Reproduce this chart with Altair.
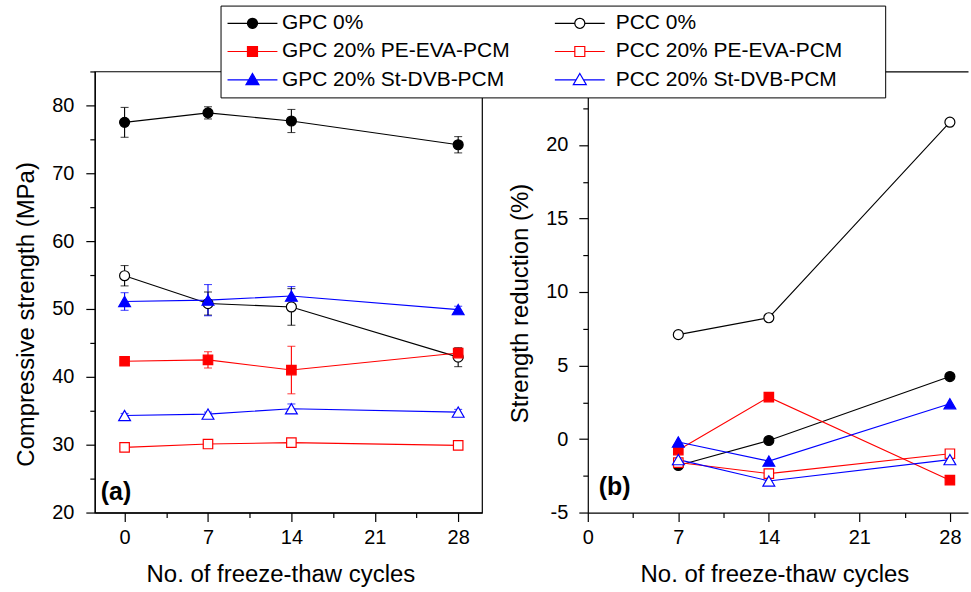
import math
import altair as alt
import pandas as pd

FONT = "Liberation Sans"

# ---------------- data ----------------
series = ["GPC 0%", "PCC 0%", "GPC 20% PE-EVA-PCM", "PCC 20% PE-EVA-PCM",
          "GPC 20% St-DVB-PCM", "PCC 20% St-DVB-PCM"]
series_color = ["#000000", "#000000", "#ff0000", "#ff0000", "#0000ff", "#0000ff"]
series_shape = ["circle", "circle", "square", "square", "triangle-up", "triangle-up"]
series_open = [False, True, False, True, False, True]
series_size = [100, 100, 90, 90, 140, 140]
# legend order: first column GPC, second column PCC
legend_order = [0, 2, 4, 1, 3, 5]

# (a) compressive strength (MPa)
cycles_a = [0, 7, 14, 28]
gpc0_a = [77.5, 78.9, 77.7, 74.2]
gpc0_err = [2.2, 0.9, 1.7, 1.2]
pcc0_a = [54.9, 50.8, 50.3, 42.9]
pcc0_err = [1.5, 1.7, 2.7, 1.4]
gpc_pe_a = [42.3, 42.5, 41.0, 43.5]
gpc_pe_err = [0.4, 1.2, 3.5, 0.7]
pcc_pe_a = [29.6, 30.1, 30.3, 29.9]
pcc_pe_err = [0.4, 0.4, 0.5, 0.4]
gpc_st_a = [51.1, 51.3, 51.9, 49.9]
gpc_st_err = [1.3, 2.3, 1.4, 0.5]
pcc_st_a = [34.3, 34.5, 35.3, 34.8]
pcc_st_err = [0.3, 0.3, 0.7, 0.4]

# (b) strength reduction (%)
cycles_b = [7, 14, 28]
gpc0_b = [-1.8, -0.1, 4.25]
pcc0_b = [7.1, 8.25, 21.55]
gpc_pe_b = [-0.75, 2.85, -2.8]
pcc_pe_b = [-1.6, -2.35, -1.0]
gpc_st_b = [-0.2, -1.5, 2.4]
pcc_st_b = [-1.4, -2.85, -1.4]

x_major_ticks = [0, 7, 14, 21, 28]
x_minor_ticks = [3.5, 10.5, 17.5, 24.5]
ya_major = [20, 30, 40, 50, 60, 70, 80]
ya_minor = [25, 35, 45, 55, 65, 75, 85]
yb_major = [-5, 0, 5, 10, 15, 20, 25]
yb_minor = [-2.5, 2.5, 7.5, 12.5, 17.5, 22.5]

vals_a = [gpc0_a, pcc0_a, gpc_pe_a, pcc_pe_a, gpc_st_a, pcc_st_a]
errs_a = [gpc0_err, pcc0_err, gpc_pe_err, pcc_pe_err, gpc_st_err, pcc_st_err]
vals_b = [gpc0_b, pcc0_b, gpc_pe_b, pcc_pe_b, gpc_st_b, pcc_st_b]


def rows(cycles, vals, errs=None):
    out = []
    for i, s in enumerate(series):
        for j, c in enumerate(cycles):
            r = {
                "series": s, "cycle": c, "value": vals[i][j],
                "col": series_color[i],
                "fillc": "#ffffff" if series_open[i] else series_color[i],
                "shape": series_shape[i], "size": series_size[i],
            }
            if errs is not None:
                r["lo"] = vals[i][j] - errs[i][j]
                r["hi"] = vals[i][j] + errs[i][j]
            out.append(r)
    return pd.DataFrame(out)


df_a = rows(cycles_a, vals_a, errs_a)
df_b = rows(cycles_b, vals_b)
caps = []
for _, r in df_a.iterrows():
    caps.append({"cycle": r["cycle"], "v": r["lo"], "col": r["col"]})
    caps.append({"cycle": r["cycle"], "v": r["hi"], "col": r["col"]})
df_caps = pd.DataFrame(caps)


# ---------------- legend (line + marker glyphs as custom symbol paths) ----------------
def glyph(kind, dx=0.0):
    f = lambda v: "%.3f" % (v + dx)
    if kind == "circle":
        p = "M%s,0H%sM%s,0H%s" % (f(-5), f(-1), f(1), f(5))
        p += "M%s,0" % f(1) + "".join(
            "L%s,%.3f" % (f(math.cos(2 * math.pi * k / 24)), math.sin(2 * math.pi * k / 24))
            for k in range(1, 24)) + "Z"
    elif kind == "square":
        p = "M%s,0H%sM%s,0H%sM%s,-1H%sV1H%sZ" % (f(-5), f(-1), f(1), f(5), f(-1), f(1), f(-1))
    else:
        p = "M%s,0H%sM%s,0H%sM%s,-1.3L%s,0.95L%s,0.95Z" % (
            f(-5), f(-0.75), f(0.75), f(5), f(0), f(1.3), f(-1.3))
    return p


leg_domain = [series[i] for i in legend_order]
leg_paths = [glyph(series_shape[i], -1.3) if series_open[i] else glyph(series_shape[i])
             for i in legend_order]
leg_fills = ["#ffffff" if series_open[i] else series_color[i] for i in legend_order]
leg_strokes = [series_color[i] for i in legend_order]

legend = alt.Legend(
    title=None, orient="none", legendX=126, legendY=-66, columns=2, direction="vertical",
    labelFont=FONT, labelFontSize=21, labelColor="black", labelLimit=700, labelOffset=19,
    symbolSize=100, symbolOffset=14.5, symbolStrokeWidth=1.2, symbolOpacity=1,
    rowPadding=6.5, columnPadding=42.5, padding=7,
    strokeColor="black", fillColor="white", cornerRadius=0,
    labelExpr="indexof(datum.label, 'PCC') === 0 ? datum.label + '\u2003\u2002\u2009\u200b' : datum.label",
)


def panel(df, xdom, width, ydom, ymaj, ymin, ytitle, ytitle_y, ylabpad, label, lx, ly,
          titlex, with_err, framed, with_legend):
    xs = alt.Scale(domain=xdom, nice=False, zero=False)
    ys = alt.Scale(domain=ydom, nice=False, zero=False)
    x_major = alt.X("cycle:Q", scale=xs, axis=alt.Axis(
        values=x_major_ticks, orient="bottom", title="No. of freeze-thaw cycles",
        tickSize=9, labelPadding=6, titlePadding=15, labelFlush=False, titleX=titlex))
    x_minor = alt.X("cycle:Q", scale=xs, axis=alt.Axis(
        values=x_minor_ticks, orient="bottom", tickSize=5, labels=False, domain=False,
        title=None))
    y_major = alt.Y("value:Q", scale=ys, axis=alt.Axis(
        values=ymaj, orient="left", title=ytitle, tickSize=9, labelPadding=ylabpad,
        titlePadding=13, titleY=ytitle_y, labelFlush=False, labelExpr="'' + datum.value"))
    y_minor = alt.Y("value:Q", scale=ys, axis=alt.Axis(
        values=ymin, orient="left", tickSize=5, labels=False, domain=False, title=None))

    base = alt.Chart(df)
    lines = base.mark_line(strokeWidth=1.1).encode(
        x=x_major, y=y_major, detail="series:N",
        stroke=alt.Stroke("col:N", scale=None))
    layers = [lines]
    if with_err:
        rules = base.mark_rule(strokeWidth=1.1).encode(
            x=alt.X("cycle:Q", scale=xs, axis=None),
            y=alt.Y("lo:Q", scale=ys, axis=None), y2="hi:Q",
            stroke=alt.Stroke("col:N", scale=None))
        capm = alt.Chart(df_caps).mark_tick(orient="horizontal", size=8, thickness=1.1).encode(
            x=alt.X("cycle:Q", scale=xs, axis=None),
            y=alt.Y("v:Q", scale=ys, axis=None),
            fill=alt.Fill("col:N", scale=None))
        layers += [rules, capm]
    pts = base.mark_point(filled=True, strokeWidth=1.2, opacity=1).encode(
        x=x_minor, y=y_minor,
        shape=alt.Shape("shape:N", scale=None),
        fill=alt.Fill("fillc:N", scale=None),
        stroke=alt.Stroke("col:N", scale=None),
        size=alt.Size("size:Q", scale=None))
    layers.append(pts)
    if not framed:
        top = base.mark_point(opacity=0).encode(
            x=alt.X("cycle:Q", scale=xs, axis=alt.Axis(
                orient="top", ticks=False, labels=False, domain=True, title=None)),
            y=alt.Y("value:Q", scale=ys, axis=None))
        layers.append(top)
    if with_legend:
        leg = base.transform_filter("false").mark_point(
            filled=True, strokeWidth=1.2, opacity=1).encode(
            shape=alt.Shape("series:N", scale=alt.Scale(domain=leg_domain, range=leg_paths),
                            legend=legend),
            fill=alt.Fill("series:N", scale=alt.Scale(domain=leg_domain, range=leg_fills),
                          legend=legend),
            stroke=alt.Stroke("series:N", scale=alt.Scale(domain=leg_domain, range=leg_strokes),
                              legend=legend))
        layers.append(leg)
    txt = alt.Chart(pd.DataFrame({"t": [label]})).mark_text(
        font=FONT, fontSize=25, fontWeight="bold", align="left", baseline="alphabetic",
        color="black").encode(text="t:N", x=alt.value(lx), y=alt.value(ly))
    layers.append(txt)
    view = alt.ViewBackground(stroke="black", strokeWidth=1.2) if framed else \
        alt.ViewBackground(stroke="transparent")
    return alt.layer(*layers).resolve_axis(x="independent", y="independent").properties(
        width=width, height=442, view=view)


left = panel(df_a, [-2.5, 30], 388, [20, 85], ya_major, ya_minor,
             "Compressive strength (MPa)", 243, 12, "(a)", 6, 429, 186, True, True, True)
right = panel(df_b, [0, 29.4], 381, [-5, 25], yb_major, yb_minor,
              "Strength reduction (%)", 232, 11, "(b)", 11, 424, 187, False, False, False)

chart = alt.hconcat(left, right, spacing=25).properties(
    padding={"left": 14, "top": 4, "right": 2, "bottom": 0},
    background="white",
).configure_axis(
    labelFont=FONT, titleFont=FONT, labelFontSize=20, titleFontSize=24,
    titleFontWeight="normal", labelColor="black", titleColor="black",
    domainColor="black", tickColor="black", domainWidth=1.2, tickWidth=1.2, grid=False,
)

chart.save("out.html", embed_options={"renderer": "svg", "actions": False})
